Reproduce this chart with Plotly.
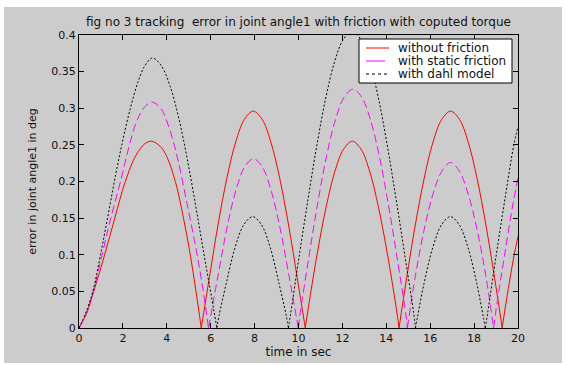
import plotly.graph_objects as go

# ---- data ----
t_red = [0, 0.35, 0.67, 1.17, 1.63, 2.11, 2.6, 3.0, 3.3, 3.7, 4.0, 4.39, 4.76, 5.07, 5.33, 5.57,
         5.94, 6.34, 6.74, 7.14, 7.54, 7.94, 8.34, 8.74, 9.14, 9.54, 9.94, 10.31,
         10.45, 10.85, 11.25, 11.65, 12.05, 12.45, 12.85, 13.25, 13.65, 14.05, 14.45, 14.58,
         14.93, 15.33, 15.73, 16.13, 16.53, 16.93, 17.33, 17.73, 18.13, 18.53, 18.93, 19.28,
         19.42, 19.82, 20.0]
v_red = [0, 0.02, 0.05, 0.10, 0.15, 0.20, 0.236, 0.2515, 0.255, 0.248, 0.234, 0.20, 0.15, 0.10, 0.05, 0,
         0.069, 0.142, 0.205, 0.254, 0.285, 0.296, 0.285, 0.254, 0.205, 0.142, 0.069, 0,
         0.028, 0.101, 0.164, 0.213, 0.244, 0.255, 0.244, 0.213, 0.164, 0.101, 0.028, 0,
         0.069, 0.142, 0.205, 0.254, 0.285, 0.296, 0.285, 0.254, 0.205, 0.142, 0.069, 0,
         0.028, 0.099, 0.125]

t_mag = [0, 0.35, 0.65, 1.05, 1.45, 1.89, 2.3, 2.6, 2.87, 3.1, 3.32, 3.72, 4.12, 4.52, 4.92, 5.32, 5.62, 5.9,
         6.35, 6.75, 7.15, 7.55, 7.95, 8.35, 8.75, 9.15, 9.55, 9.99,
         10.08, 10.48, 10.88, 11.28, 11.68, 12.08, 12.48, 12.88, 13.28, 13.68, 14.08, 14.48, 14.88, 14.96,
         15.33, 15.73, 16.13, 16.53, 16.93, 17.33, 17.73, 18.13, 18.53, 18.89,
         18.98, 19.38, 19.78, 20.0]
v_mag = [0, 0.022, 0.05, 0.10, 0.15, 0.20, 0.250, 0.280, 0.297, 0.305, 0.3085, 0.300, 0.272, 0.228, 0.170, 0.110, 0.058, 0,
         0.074, 0.138, 0.188, 0.220, 0.231, 0.220, 0.188, 0.138, 0.074, 0,
         0.021, 0.098, 0.171, 0.235, 0.284, 0.315, 0.326, 0.315, 0.284, 0.235, 0.171, 0.098, 0.021, 0,
         0.072, 0.135, 0.183, 0.214, 0.226, 0.214, 0.183, 0.135, 0.072, 0,
         0.021, 0.098, 0.171, 0.205]

t_blk = [0, 0.3, 0.63, 0.98, 1.3, 1.61, 1.95, 2.34, 2.7, 3.0, 3.35, 3.75, 4.15, 4.55, 4.95, 5.35, 5.75, 6.15, 6.28,
         6.38, 6.71, 7.11, 7.51, 7.91, 8.31, 8.71, 9.11, 9.44, 9.54,
         9.64, 10.04, 10.44, 10.84, 11.24, 11.64, 12.04, 12.44, 12.84, 13.24, 13.64, 14.04, 14.44, 14.84, 15.24, 15.33,
         15.42, 15.72, 16.12, 16.52, 16.92, 17.32, 17.72, 18.12, 18.42, 18.51,
         18.61, 19.01, 19.41, 19.81, 20.0]
v_blk = [0, 0.02, 0.05, 0.10, 0.15, 0.20, 0.25, 0.30, 0.337, 0.358, 0.3686, 0.358, 0.330, 0.286, 0.228, 0.161, 0.091, 0.023, 0,
         0.017, 0.061, 0.110, 0.141, 0.152, 0.141, 0.110, 0.061, 0.017, 0,
         0.019, 0.100, 0.177, 0.250, 0.314, 0.363, 0.394, 0.405, 0.394, 0.363, 0.314, 0.250, 0.177, 0.100, 0.022, 0,
         0.015, 0.061, 0.110, 0.141, 0.152, 0.141, 0.110, 0.061, 0.015, 0,
         0.019, 0.100, 0.177, 0.250, 0.275]

series_names = ["without friction", "with static friction", "with dahl model"]
x_ticks = list(range(0, 21, 2))
y_ticks = [0, 0.05, 0.1, 0.15, 0.2, 0.25, 0.3, 0.35, 0.4]
y_tick_text = ["0", "0.05", "0.1", "0.15", "0.2", "0.25", "0.3", "0.35", "0.4"]


def arches(t, v):
    segs, start = [], 0
    for i in range(1, len(v)):
        if v[i] == 0:
            segs.append((t[start:i + 1], v[start:i + 1]))
            start = i
    if start < len(v) - 1:
        segs.append((t[start:], v[start:]))
    return segs


styles = [
    dict(color="#ff0000", width=1, dash="solid"),
    dict(color="#ff00ff", width=1, dash="8px,4px"),
    dict(color="#000000", width=1, dash="2px,2px"),
]

fig = go.Figure()
for (t, v), name, st in zip([(t_red, v_red), (t_mag, v_mag), (t_blk, v_blk)], series_names, styles):
    for k, (ts, vs) in enumerate(arches(t, v)):
        fig.add_trace(go.Scatter(x=ts, y=vs, mode="lines", name=name, legendgroup=name,
                                 showlegend=False, line=dict(shape="spline", smoothing=1, **st)))

FONT = "DejaVu Sans, Liberation Sans, Arial, sans-serif"

# plot area in px: x 79..518, y 35..328
L, R, T, B = 79, 49, 35, 37
W, H = 567, 365
pw, ph = W - L - R, H - T - B


def px_x(x):
    return (x - L) / pw


def px_y(y):
    return (H - B - y) / ph


shapes = [
    # gray figure background
    dict(type="rect", xref="paper", yref="paper", x0=px_x(4), x1=px_x(562), y0=px_y(363), y1=px_y(7),
         fillcolor="#cccccc", line=dict(width=0), layer="below"),
    # legend box
    dict(type="rect", xref="paper", yref="paper", x0=px_x(359), x1=px_x(512), y0=px_y(83), y1=px_y(39),
         fillcolor="white", line=dict(color="black", width=1), layer="above"),
]
annotations = []
leg_rows = [48, 61, 74]
leg_samples = [(366, 389, "solid"), (366, 385, "solid"), (366, 390, "3px,3px")]
for row, name, st, (a, b, d) in zip(leg_rows, series_names, styles, leg_samples):
    shapes.append(dict(type="line", xref="paper", yref="paper", x0=px_x(a), x1=px_x(b),
                       y0=px_y(row), y1=px_y(row), line=dict(color=st["color"], width=1, dash=d),
                       layer="above"))
    annotations.append(dict(text=name, xref="paper", yref="paper", x=px_x(396), y=px_y(row),
                            xanchor="left", yanchor="middle", showarrow=False,
                            font=dict(family=FONT, size=12, color="#111")))

fig.update_layout(
    width=W, height=H,
    margin=dict(l=L, r=R, t=T, b=B, pad=0),
    paper_bgcolor="white",
    plot_bgcolor="white",
    showlegend=False,
    font=dict(family=FONT, size=11, color="#111"),
    title=dict(text="fig no 3 tracking\u00a0 error in joint angle1 with friction with coputed torque",
               x=0.5, xref="paper", xanchor="center", y=1 - 22 / H, yref="container", yanchor="middle",
               font=dict(family=FONT, size=12, color="#111")),
    shapes=shapes,
    annotations=annotations,
)
fig.update_xaxes(range=[0, 20], tickvals=x_ticks, ticks="inside", ticklen=5, tickcolor="black",
                 showline=True, linecolor="black", linewidth=1, mirror="ticks", showgrid=False,
                 zeroline=False, tickfont=dict(family=FONT, size=11, color="#111"),
                 title=dict(text="time in sec", standoff=2, font=dict(family=FONT, size=12, color="#111")),
                 automargin=False)
fig.update_yaxes(range=[0, 0.4], tickvals=y_ticks, ticktext=y_tick_text, ticks="inside", ticklen=5,
                 tickcolor="black", showline=True, linecolor="black", linewidth=1, mirror="ticks",
                 showgrid=False, zeroline=False, tickfont=dict(family=FONT, size=11, color="#111"),
                 title=dict(text="error in joint angle1 in deg", standoff=12,
                            font=dict(family=FONT, size=11, color="#111")),
                 automargin=False)

fig.write_html("out.html", config={"displayModeBar": False},
               post_script="document.body.style.margin='0';document.body.style.overflow='hidden';")
